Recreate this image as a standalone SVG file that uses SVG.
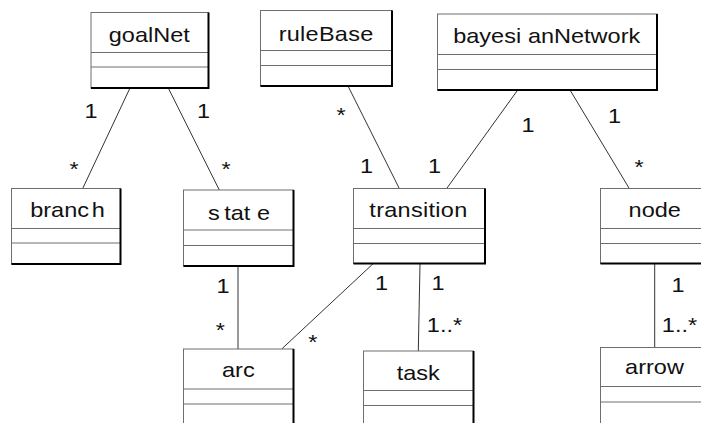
<svg xmlns="http://www.w3.org/2000/svg" width="701" height="423" viewBox="0 0 701 423">
  <style>
    .frame { fill: #ffffff; stroke: #6e6e6e; stroke-width: 1; }
    .shade { fill: none; stroke: #000000; stroke-width: 2; }
    .div { stroke: #6e6e6e; stroke-width: 1; }
    text { font-family: "Liberation Sans", Arial, sans-serif; font-size: 21px; fill: #111; text-anchor: middle; }
    .assoc line { stroke: #333333; stroke-width: 1; }
  </style>

  <!-- associations -->
  <g id="connectors" class="assoc">
    <line x1="130" y1="88" x2="82.7" y2="188.5"/>
    <line x1="168.3" y1="88" x2="219.3" y2="190"/>
    <line x1="348" y1="86" x2="399.3" y2="188.5"/>
    <line x1="517.7" y1="90" x2="446.7" y2="188.5"/>
    <line x1="570" y1="90" x2="629.3" y2="188.5"/>
    <line x1="238" y1="266" x2="238" y2="349"/>
    <line x1="373.3" y1="263.5" x2="281.7" y2="349"/>
    <line x1="420" y1="263.5" x2="418.3" y2="351"/>
    <line x1="654.7" y1="263.5" x2="654.7" y2="347.5"/>
  </g>

  <!-- multiplicities (glyphs widened 12%) -->
  <g id="multiplicities">
    <text transform="translate(91 118) scale(1.12 1)">1</text>
    <text transform="translate(74 175.5) scale(1.12 1)">*</text>
    <text transform="translate(203.5 118) scale(1.12 1)">1</text>
    <text transform="translate(226 175.5) scale(1.12 1)">*</text>
    <text transform="translate(341 122) scale(1.12 1)">*</text>
    <text transform="translate(366.5 172.5) scale(1.12 1)">1</text>
    <text transform="translate(434.5 172.5) scale(1.12 1)">1</text>
    <text transform="translate(528 131.5) scale(1.12 1)">1</text>
    <text transform="translate(614.5 123) scale(1.12 1)">1</text>
    <text transform="translate(639 174) scale(1.12 1)">*</text>
    <text transform="translate(223 293) scale(1.12 1)">1</text>
    <text transform="translate(220.3 337) scale(1.12 1)">*</text>
    <text transform="translate(312.7 349) scale(1.12 1)">*</text>
    <text transform="translate(381.5 290) scale(1.12 1)">1</text>
    <text transform="translate(438 290) scale(1.12 1)">1</text>
    <text transform="translate(444.5 331.5) scale(1.12 1)">1..*</text>
    <text transform="translate(679.5 331.5) scale(1.12 1)">1..*</text>
    <text transform="translate(678 291.5) scale(1.12 1)">1</text>
  </g>

  <!-- classes -->
  <g id="goalNet">
    <rect class="frame" x="91" y="12.5" width="117.5" height="75.5"/>
    <line class="div" x1="91" y1="52.5" x2="208.5" y2="52.5"/>
    <line class="div" x1="91" y1="67" x2="208.5" y2="67"/>
    <polyline class="shade" points="91,88 208.5,88 208.5,12.5"/>
    <text transform="translate(149.3 41.5) scale(1.12 1)">goalNet</text>
  </g>

  <g id="ruleBase">
    <rect class="frame" x="260.5" y="10.5" width="131.5" height="75.5"/>
    <line class="div" x1="260.5" y1="50.5" x2="392" y2="50.5"/>
    <line class="div" x1="260.5" y1="65.5" x2="392" y2="65.5"/>
    <polyline class="shade" points="260.5,86 392,86 392,10.5"/>
    <text transform="translate(326 40.5) scale(1.12 1)" textLength="84.5" lengthAdjust="spacing">ruleBase</text>
  </g>

  <g id="bayesianNetwork">
    <rect class="frame" x="437.5" y="14" width="219.5" height="76"/>
    <line class="div" x1="437.5" y1="54.5" x2="657" y2="54.5"/>
    <line class="div" x1="437.5" y1="69.5" x2="657" y2="69.5"/>
    <polyline class="shade" points="437.5,90 657,90 657,14"/>
    <text transform="translate(546.7 43.3) scale(1.12 1)">bayesi<tspan dx="6">anNetwork</tspan></text>
  </g>

  <g id="branch">
    <rect class="frame" x="11.5" y="188.5" width="109" height="75.5"/>
    <line class="div" x1="11.5" y1="228.5" x2="120.5" y2="228.5"/>
    <line class="div" x1="11.5" y1="243" x2="120.5" y2="243"/>
    <polyline class="shade" points="11.5,264 120.5,264 120.5,188.5"/>
    <text transform="translate(67.5 217.3) scale(1.12 1)">branc<tspan dx="2.5">h</tspan></text>
  </g>

  <g id="state">
    <rect class="frame" x="183.5" y="190" width="110" height="76"/>
    <line class="div" x1="183.5" y1="230" x2="293.5" y2="230"/>
    <line class="div" x1="183.5" y1="245.5" x2="293.5" y2="245.5"/>
    <polyline class="shade" points="183.5,266 293.5,266 293.5,190"/>
    <text transform="translate(239 220) scale(1.12 1)">s<tspan dx="4">tat</tspan><tspan dx="6">e</tspan></text>
  </g>

  <g id="transition">
    <rect class="frame" x="353.5" y="188.5" width="131.5" height="75"/>
    <line class="div" x1="353.5" y1="228.5" x2="485" y2="228.5"/>
    <line class="div" x1="353.5" y1="243.5" x2="485" y2="243.5"/>
    <polyline class="shade" points="353.5,263.5 485,263.5 485,188.5"/>
    <text transform="translate(418.3 217.3) scale(1.12 1)" textLength="87.5" lengthAdjust="spacing">transition</text>
  </g>

  <g id="node">
    <rect class="frame" x="600.5" y="188.5" width="109.5" height="75"/>
    <line class="div" x1="600.5" y1="228.5" x2="710" y2="228.5"/>
    <line class="div" x1="600.5" y1="243.5" x2="710" y2="243.5"/>
    <polyline class="shade" points="600.5,263.5 710,263.5 710,188.5"/>
    <text transform="translate(654.7 216.7) scale(1.12 1)">node</text>
  </g>

  <g id="arc">
    <rect class="frame" x="183.5" y="349" width="110" height="80"/>
    <line class="div" x1="183.5" y1="389" x2="293.5" y2="389"/>
    <line class="div" x1="183.5" y1="404" x2="293.5" y2="404"/>
    <polyline class="shade" points="183.5,429 293.5,429 293.5,349"/>
    <text transform="translate(238.3 376.7) scale(1.12 1)">arc</text>
  </g>

  <g id="task">
    <rect class="frame" x="363.5" y="351" width="110" height="80"/>
    <line class="div" x1="363.5" y1="390.5" x2="473.5" y2="390.5"/>
    <line class="div" x1="363.5" y1="405.5" x2="473.5" y2="405.5"/>
    <polyline class="shade" points="363.5,431 473.5,431 473.5,351"/>
    <text transform="translate(418.3 380) scale(1.12 1)">task</text>
  </g>

  <g id="arrow">
    <rect class="frame" x="600.5" y="347.5" width="109.5" height="80"/>
    <line class="div" x1="600.5" y1="386.5" x2="710" y2="386.5"/>
    <line class="div" x1="600.5" y1="402" x2="710" y2="402"/>
    <polyline class="shade" points="600.5,427.5 710,427.5 710,347.5"/>
    <text transform="translate(654.5 374.3) scale(1.12 1)">arrow</text>
  </g>
</svg>
